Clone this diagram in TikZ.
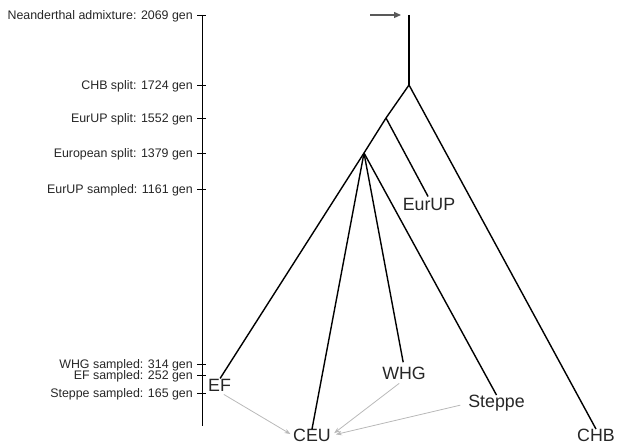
\documentclass[tikz,border=0pt]{standalone}
\usepackage{fontspec}
\setmainfont{Liberation Sans}
\usetikzlibrary{arrows.meta}
\begin{document}
\begin{tikzpicture}[x=1pt,y=-1pt,
  branch/.style={line width=1.4pt,black},
  axisline/.style={line width=0.9pt,black},
  ticklab/.style={anchor=base east,inner sep=0pt,font=\fontsize{12.4}{14}\selectfont,text=black!85},
  pop/.style={inner sep=0pt,font=\fontsize{17.8}{20}\selectfont,text=black!85},
  mix/.style={line width=0.8pt,gray!55,-{Stealth[length=6pt,width=4.5pt]}},
  pulse/.style={line width=1.3pt,black!65,-{Triangle[length=7pt,width=6pt]}}]
\useasboundingbox (0,0) rectangle (617,446);

% time axis with ticks and labels
\coordinate (axtop) at (202,15);
\coordinate (axbot) at (202,426);
\draw[axisline] (axtop) -- (axbot);
\foreach \y/\txt in {15/Neanderthal admixture: 2069 gen,
                      85/CHB split: 1724 gen,
                      118/EurUP split: 1552 gen,
                      153/European split: 1379 gen,
                      189/EurUP sampled: 1161 gen,
                      364/WHG sampled: 314 gen,
                      375/EF sampled: 252 gen,
                      393/Steppe sampled: 165 gen}{
  \draw[axisline] (197,\y) -- (206,\y);
  \node[ticklab] at (193,\y+4.3) {\txt};
}

% tree junctions
\coordinate (top) at (409,15);
\coordinate (root) at (409,85);
\coordinate (eurupsplit) at (386,118);
\coordinate (eursplit) at (364,153);

% population labels
\node[pop,anchor=base] (EurUP) at (429,210.7) {EurUP};
\node[pop,anchor=base west] (EF) at (208,391.7) {EF};
\node[pop,anchor=base] (WHG) at (404,379.3) {WHG};
\node[pop,anchor=base] (Steppe) at (496.5,407.7) {Steppe};
\node[pop,anchor=base] (CEU) at (312,441.7) {CEU};
\node[pop,anchor=base] (CHB) at (596,441.7) {CHB};

% tree branches
\draw[branch] (top) -- (root);
\draw[branch] (root) -- (CHB.north);
\draw[branch] (root) -- (eurupsplit) -- (eursplit);
\draw[branch,shorten >=2pt] (eurupsplit) -- (EurUP.north);
\draw[branch,shorten >=1pt] (eursplit) -- (EF.north);
\draw[branch] (eursplit) -- (CEU.north);
\draw[branch,shorten >=4.5pt] (eursplit) -- (WHG.north);
\draw[branch] (eursplit) -- (Steppe.north);

% Neanderthal pulse
\coordinate (pulsestart) at (370,15);
\draw[pulse,shorten >=8pt] (pulsestart) -- (top);

% admixture into CEU
\draw[mix,shorten <=5pt,shorten >=3pt] (EF.south) -- (CEU.west);
\draw[mix,shorten <=6pt,shorten >=4pt] (WHG.south) -- (CEU.east);
\draw[mix,shorten <=8pt,shorten >=5pt] (Steppe.west) -- (CEU.east);
\end{tikzpicture}
\end{document}
